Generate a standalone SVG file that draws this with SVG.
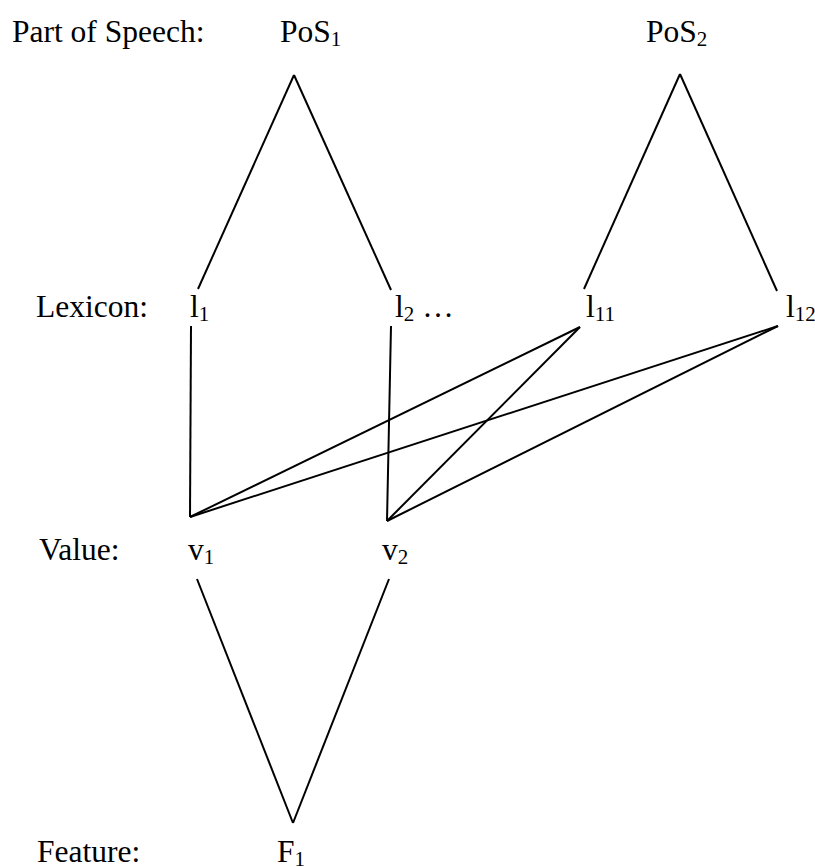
<svg xmlns="http://www.w3.org/2000/svg" width="815" height="867" viewBox="0 0 815 867">
  <style>
    text { font-family: "Liberation Serif", "Times New Roman", serif; font-size: 31.5px; fill: #000; }
    .sub { font-size: 21px; }
    .edge { stroke: #000; stroke-width: 2; fill: none; stroke-linecap: butt; }
  </style>
  <rect width="815" height="867" fill="#fff"/>

  <g id="row-labels">
    <text x="12" y="42">Part of Speech:</text>
    <text x="36" y="317">Lexicon:</text>
    <text x="39" y="560">Value:</text>
    <text x="37" y="862">Feature:</text>
  </g>

  <g id="PoS1"><text x="280" y="42">PoS<tspan class="sub" dy="4">1</tspan></text></g>
  <g id="PoS2"><text x="646" y="42">PoS<tspan class="sub" dy="4">2</tspan></text></g>

  <g id="l1"><text x="190" y="317">l<tspan class="sub" dy="4">1</tspan></text></g>
  <g id="l2"><text x="395" y="317">l<tspan class="sub" dy="4">2</tspan><tspan dy="-4"> …</tspan></text></g>
  <g id="l11"><text x="586" y="317">l<tspan class="sub" dy="4">11</tspan></text></g>
  <g id="l12"><text x="786" y="317">l<tspan class="sub" dy="4">12</tspan></text></g>

  <g id="v1"><text x="188" y="560">v<tspan class="sub" dy="4">1</tspan></text></g>
  <g id="v2"><text x="382" y="560">v<tspan class="sub" dy="4">2</tspan></text></g>

  <g id="F1"><text x="277" y="862">F<tspan class="sub" dy="4">1</tspan></text></g>

  <g id="connectors">
    <line class="edge" x1="294" y1="75" x2="198" y2="289"/>
    <line class="edge" x1="294" y1="75" x2="391" y2="290"/>
    <line class="edge" x1="680" y1="74" x2="584" y2="289"/>
    <line class="edge" x1="680" y1="74" x2="777" y2="291"/>

    <line class="edge" x1="191" y1="326" x2="190" y2="517"/>
    <line class="edge" x1="391" y1="326" x2="387" y2="521"/>
    <line class="edge" x1="190" y1="517" x2="580" y2="327"/>
    <line class="edge" x1="190" y1="517" x2="778" y2="326"/>
    <line class="edge" x1="387" y1="521" x2="580" y2="327"/>
    <line class="edge" x1="387" y1="521" x2="778" y2="326"/>

    <line class="edge" x1="197" y1="579" x2="293" y2="823"/>
    <line class="edge" x1="389" y1="579" x2="293" y2="823"/>
  </g>
</svg>
